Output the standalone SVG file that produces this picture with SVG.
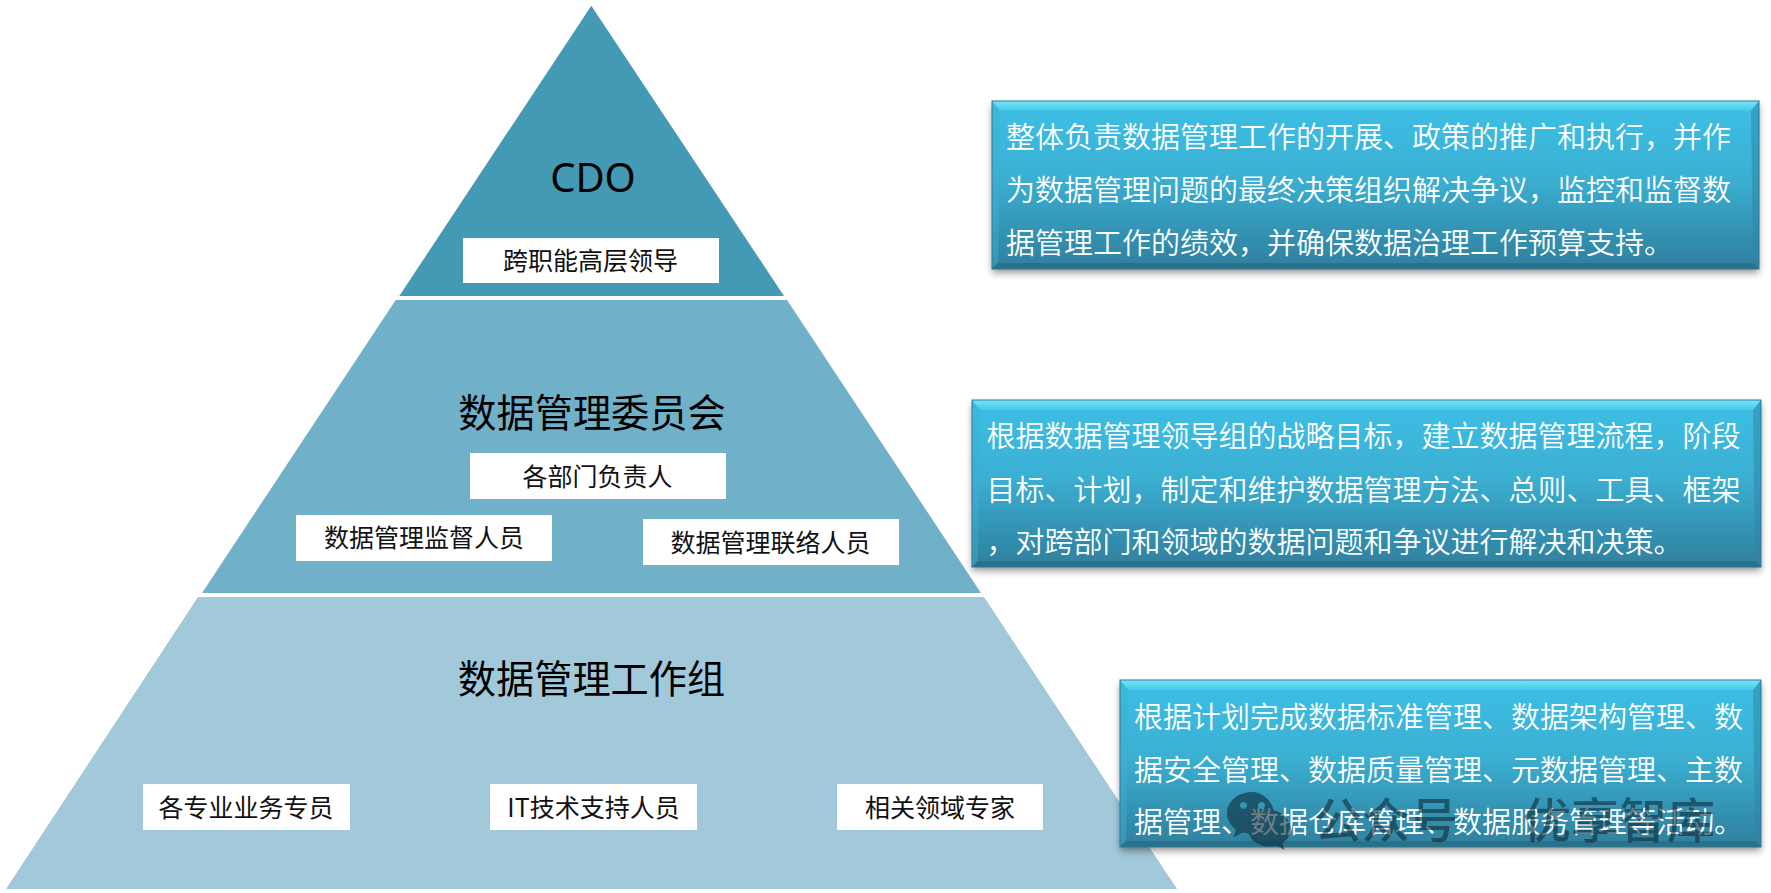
<svg xmlns="http://www.w3.org/2000/svg" width="1771" height="893" viewBox="0 0 1771 893">
  <style>
    text { font-family: "Noto Sans CJK SC", "Noto Sans", sans-serif; }
    .title { font-size: 38.200px; fill: #000; text-anchor: middle; }
    .latin { font-family: "Noto Sans", "Noto Sans CJK SC", sans-serif; font-size: 40px; fill: #000; text-anchor: middle; }
    .tag { fill: #fff; }
    .tagtext { font-size: 25px; fill: #111; text-anchor: middle; }
    .note { font-size: 29px; fill: #fff; font-weight: 350; }
    .lip-t { fill: url(#lipTop); }
    .lip-l { fill: #3fb0d2; opacity: .45; }
    .lip-r { fill: #2a86a6; opacity: .5; }
    .lip-b { fill: #296f88; opacity: .9; }
    .edge { fill: none; stroke: #2f7a94; stroke-width: 1; }
    .mark { fill: #0f2c39; }
    .marktext { font-size: 48px; fill: #0f2c39; font-weight: 500; }
  </style>
  <defs>
    <linearGradient id="panel" x1="0" y1="0" x2="0" y2="1">
      <stop offset="0" stop-color="#3cbfe6"/>
      <stop offset=".45" stop-color="#3bb0d3"/>
      <stop offset="1" stop-color="#2f7f9d"/>
    </linearGradient>
    <linearGradient id="lipTop" x1="0" y1="0" x2="0" y2="1">
      <stop offset="0" stop-color="#74e8fb"/>
      <stop offset="1" stop-color="#45c6e8"/>
    </linearGradient>
    <filter id="lift" x="-3%" y="-10%" width="106%" height="125%">
      <feDropShadow dx="0" dy="4" stdDeviation="3.500" flood-color="#000" flood-opacity=".4"/>
    </filter>
  </defs>

  <!-- pyramid tiers -->
  <g id="tier-cdo">
    <polygon points="591.3,5.7 784,296 399.3,296" fill="#4499b4"/>
    <text class="latin" x="593" y="192">CDO</text>
    <rect class="tag" x="463" y="238" width="256" height="45"/>
    <text class="tagtext" x="590.5" y="269.5">跨职能高层领导</text>
  </g>
  <g id="tier-committee">
    <polygon points="395.7,300 787,300 981,593 202,593" fill="#70b1c9"/>
    <text class="title" x="592" y="427">数据管理委员会</text>
    <rect class="tag" x="470" y="453" width="256" height="46"/>
    <text class="tagtext" x="597.5" y="485.5">各部门负责人</text>
    <rect class="tag" x="296" y="515" width="256" height="46"/>
    <text class="tagtext" x="424" y="547">数据管理监督人员</text>
    <rect class="tag" x="643" y="519" width="256" height="46"/>
    <text class="tagtext" x="770.500" y="552">数据管理联络人员</text>
  </g>
  <g id="tier-workgroup">
    <polygon points="198,597 984,597 1177,889 6,889" fill="#a1c9da"/>
    <text class="title" x="591.500" y="693">数据管理工作组</text>
    <rect class="tag" x="143" y="784" width="207" height="46"/>
    <text class="tagtext" x="246" y="816.5">各专业业务专员</text>
    <rect class="tag" x="490" y="784" width="207" height="46"/>
    <text class="tagtext" x="593.500" y="816.5">IT技术支持人员</text>
    <rect class="tag" x="837" y="784" width="206" height="46"/>
    <text class="tagtext" x="940" y="816.5">相关领域专家</text>
  </g>

  <!-- bevelled description panels -->
  <g id="note-cdo">
    <rect x="992" y="101" width="767" height="168" fill="url(#panel)" filter="url(#lift)"/>
    <polygon class="lip-t" points="992,101 1759,101 1751,111 1000,111"/>
    <polygon class="lip-l" points="992,101 1000,111 998,263 992,269"/>
    <polygon class="lip-r" points="1759,101 1751,111 1753,263 1759,269"/>
    <polygon class="lip-b" points="992,269 998,263 1753,263 1759,269"/>
    <rect class="edge" x="992" y="101" width="767" height="168"/>
    <text class="note" x="1006" y="148">整体负责数据管理工作的开展、政策的推广和执行，并作</text>
    <text class="note" x="1006" y="201">为数据管理问题的最终决策组织解决争议，监控和监督数</text>
    <text class="note" x="1006" y="254">据管理工作的绩效，并确保数据治理工作预算支持。</text>
  </g>
  <g id="note-committee">
    <rect x="972" y="400" width="789" height="167" fill="url(#panel)" filter="url(#lift)"/>
    <polygon class="lip-t" points="972,400 1761,400 1753,410 980,410"/>
    <polygon class="lip-l" points="972,400 980,410 978,561 972,567"/>
    <polygon class="lip-r" points="1761,400 1753,410 1755,561 1761,567"/>
    <polygon class="lip-b" points="972,567 978,561 1755,561 1761,567"/>
    <rect class="edge" x="972" y="400" width="789" height="167"/>
    <text class="note" x="986.500" y="447">根据数据管理领导组的战略目标，建立数据管理流程，阶段</text>
    <text class="note" x="986.500" y="501">目标、计划，制定和维护数据管理方法、总则、工具、框架</text>
    <text class="note" x="986.500" y="553">，对跨部门和领域的数据问题和争议进行解决和决策。</text>
  </g>
  <g id="note-workgroup">
    <rect x="1120" y="680" width="641" height="167" fill="url(#panel)" filter="url(#lift)"/>
    <polygon class="lip-t" points="1120,680 1761,680 1753,690 1128,690"/>
    <polygon class="lip-l" points="1120,680 1128,690 1126,841 1120,847"/>
    <polygon class="lip-r" points="1761,680 1753,690 1755,841 1761,847"/>
    <polygon class="lip-b" points="1120,847 1126,841 1755,841 1761,847"/>
    <rect class="edge" x="1120" y="680" width="641" height="167"/>
    <text class="note" x="1134" y="727.500">根据计划完成数据标准管理、数据架构管理、数</text>
    <text class="note" x="1134" y="780.500">据安全管理、数据质量管理、元数据管理、主数</text>
    <text class="note" x="1134" y="833">据管理、数据仓库管理、数据服务管理等活动。</text>
  </g>

  <!-- publisher mark laid over the last panel -->
  <g id="publisher-mark" opacity=".6">
    <path class="mark" fill-rule="evenodd" d="M1252 792c-14 0-25 9.500-25 21 0 6.500 3.500 12.500 9 16.500l-2.500 8 9-5c2 .5 4 .8 6 1 2.500 7.500 11 13 21 13 2.500 0 5-.4 7-1l8 4.500-2-7c5-3.500 8.500-8.500 8.500-14 0-9-7-16.500-17-18.500C1271 800 1262 792 1252 792zM1243.500 802a3.500 3.500 0 1 0 .01 0zM1261.500 802a3.500 3.500 0 1 0 .01 0z"/>
    <text class="marktext" x="1314" y="838">公众号</text>
    <text class="marktext" x="1523" y="838">优享智库</text>
  </g>

  <!-- no connectors in this chart -->
  <g id="connectors"/>
</svg>
